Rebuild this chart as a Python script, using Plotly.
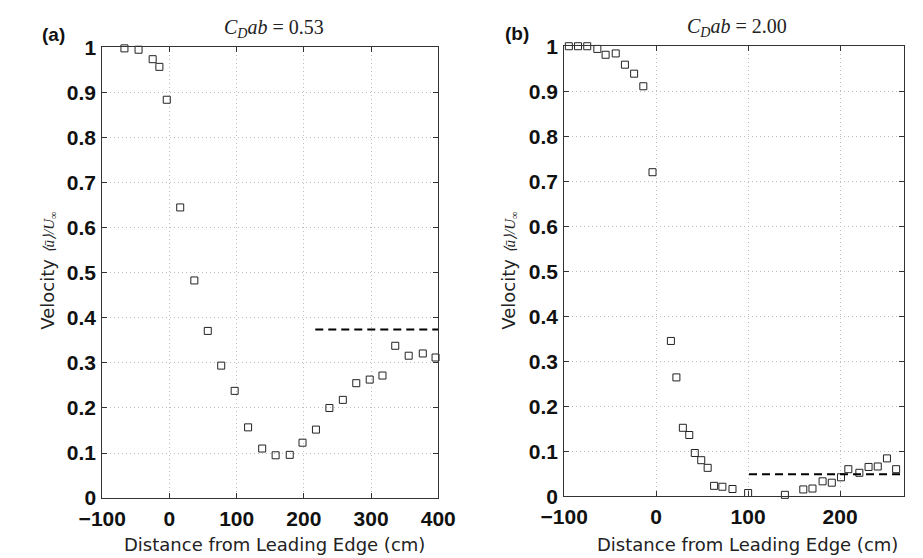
import plotly.graph_objects as go

# Panel (a): C_D ab = 0.53
xa = [-67, -46, -25, -15, -4, 16, 37, 57, 77, 97, 117, 138, 158, 179, 198, 218,
      238, 258, 278, 298, 317, 336, 356, 377, 396]
ya = [0.998, 0.995, 0.974, 0.957, 0.884, 0.645, 0.483, 0.371, 0.294, 0.238, 0.157,
      0.110, 0.095, 0.096, 0.123, 0.152, 0.200, 0.218, 0.255, 0.263, 0.272, 0.338,
      0.316, 0.321, 0.312]
dash_a_x = [217, 400]
dash_a_y = [0.374, 0.374]

# Panel (b): C_D ab = 2.00
xb = [-95, -85, -75, -64, -55, -44, -34, -24, -14, -4, 16, 22, 29, 36, 42, 49, 56,
      63, 72, 83, 100, 140, 160, 170, 181, 191, 201, 209, 221, 231, 241, 251, 261]
yb = [1.0, 1.0, 1.0, 0.994, 0.981, 0.984, 0.959, 0.939, 0.911, 0.720, 0.345, 0.264,
      0.152, 0.136, 0.096, 0.080, 0.063, 0.023, 0.021, 0.016, 0.007, 0.003, 0.015,
      0.017, 0.033, 0.030, 0.042, 0.060, 0.052, 0.065, 0.066, 0.084, 0.060]
dash_b_x = [101, 300]
dash_b_y = [0.049, 0.049]

xticks_a = [-100, 0, 100, 200, 300, 400]
xticks_b = [-100, 0, 100, 200, 300]
yticks = [0, 0.1, 0.2, 0.3, 0.4, 0.5, 0.6, 0.7, 0.8, 0.9, 1]
ytick_labels = ["0", "0.1", "0.2", "0.3", "0.4", "0.5", "0.6", "0.7", "0.8", "0.9", "1"]

W, H = 923, 558
def px(x):
    return x / W
def py(y):
    return 1 - y / H

fig = go.Figure()
marker = dict(symbol="square-open", size=7, color="#222", line=dict(width=1, color="#222"))
fig.add_trace(go.Scatter(x=xa, y=ya, mode="markers", marker=marker, xaxis="x", yaxis="y",
                         showlegend=False, cliponaxis=False))
fig.add_trace(go.Scatter(x=dash_a_x, y=dash_a_y, mode="lines",
                         line=dict(color="black", width=2, dash="8px,5px"),
                         xaxis="x", yaxis="y", showlegend=False))
fig.add_trace(go.Scatter(x=xb, y=yb, mode="markers", marker=marker, xaxis="x2", yaxis="y2",
                         showlegend=False, cliponaxis=False))
fig.add_trace(go.Scatter(x=dash_b_x, y=dash_b_y, mode="lines",
                         line=dict(color="black", width=2, dash="8px,5px"),
                         xaxis="x2", yaxis="y2", showlegend=False))

tickfont = dict(family="Liberation Sans", size=21, color="#111", weight="bold")
common = dict(showline=True, linecolor="#333", linewidth=1, mirror="ticks",
              ticks="inside", ticklen=5, tickcolor="#333",
              showgrid=True, gridcolor="#bdbdbd", griddash="1px,3px", gridwidth=1,
              zeroline=False, tickfont=tickfont)

fig.update_layout(
    width=W, height=H, margin=dict(l=0, r=0, t=0, b=0),
    paper_bgcolor="white", plot_bgcolor="white",
    xaxis=dict(domain=[px(82), px(434)], range=[-100, 400], tickvals=xticks_a,
               anchor="y", ticklabelstandoff=2, **common),
    yaxis=dict(domain=[py(507), py(37)], range=[0, 1], tickvals=yticks,
               ticktext=ytick_labels, anchor="x", ticklabelstandoff=1, **common),
    xaxis2=dict(domain=[px(566), px(922)], range=[-100, 269.6], tickvals=xticks_b,
                anchor="y2", ticklabelstandoff=2, **common),
    yaxis2=dict(domain=[py(505), py(35.7)], range=[0, 1], tickvals=yticks,
                ticktext=ytick_labels, anchor="x2", ticklabelstandoff=1, **common),
)

label_font = dict(family="DejaVu Sans", size=18, color="#222")
title_font = dict(family="Liberation Serif", size=20, color="#222")
ylab = ("Velocity <span style='font-family:Liberation Serif;font-size:15px'>"
        "<i>⟨ū⟩/U</i><sub>∞</sub></span>")
annots = [
    dict(x=px(31), y=py(23), text="<b>(a)</b>", font=dict(family="Liberation Sans", size=19, color="#111")),
    dict(x=px(517), y=py(22), text="<b>(b)</b>", font=dict(family="Liberation Sans", size=19, color="#111")),
    dict(x=px(262), y=py(17), text="<i>C</i><sub><i>D</i></sub><i>ab</i> = 0.53", font=title_font),
    dict(x=px(747), y=py(16), text="<i>C</i><sub><i>D</i></sub><i>ab</i> = 2.00", font=title_font),
    dict(x=px(25), y=py(270), text=ylab, textangle=-90, font=label_font),
    dict(x=px(508), y=py(270), text=ylab, textangle=-90, font=label_font),
]
for a in annots:
    fig.add_annotation(xref="paper", yref="paper", showarrow=False,
                       xanchor="center", yanchor="middle", **a)
for cx in (262, 758):
    fig.add_annotation(xref="paper", yref="paper", showarrow=False, x=px(cx), y=py(546),
                       xanchor="center", yanchor="middle", yshift=-9, borderpad=0,
                       text="Distance from Leading Edge (cm)", font=label_font)

fig.write_html("out.html")
